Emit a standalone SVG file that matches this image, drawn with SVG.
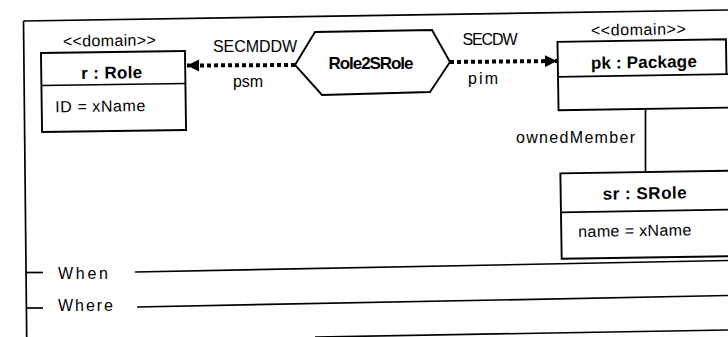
<svg xmlns="http://www.w3.org/2000/svg" width="728" height="337" viewBox="0 0 728 337">
<style>
.ln{fill:none;stroke:#000;stroke-width:1.7}
.box{fill:#fff;stroke:#000;stroke-width:1.9}
.t{font-family:"Liberation Sans",Arial,sans-serif;font-size:16px;fill:#000}
.b{font-family:"Liberation Sans",Arial,sans-serif;font-size:17px;font-weight:bold;fill:#000}
.dot{fill:none;stroke:#000;stroke-width:4;stroke-dasharray:4 3}
</style>
<defs>
<marker id="ah" viewBox="0 0 12 12" refX="12" refY="6" markerWidth="12" markerHeight="12" markerUnits="userSpaceOnUse" orient="auto">
<path d="M0,0 L12,6 L0,12 Z" fill="#000"/>
</marker>
</defs>
<rect width="728" height="337" fill="#fff"/>
<g id="frame">
<line class="ln" x1="23.5" y1="21" x2="728" y2="10"/>
<line class="ln" x1="23.5" y1="21" x2="26.7" y2="337"/>
<line class="ln" x1="26" y1="272.5" x2="43" y2="272.5"/>
<line class="ln" x1="27" y1="308" x2="43" y2="308"/>
<text class="t" x="58" y="278.5" textLength="50" font-size="18">When</text>
<text class="t" x="58" y="310.5" textLength="55" font-size="18">Where</text>
<line class="ln" x1="135" y1="272" x2="728" y2="260.5"/>
<line class="ln" x1="137" y1="307" x2="728" y2="295.5"/>
<line class="ln" x1="315" y1="337" x2="728" y2="330"/>
</g>
<g id="connectors">
<line class="dot" x1="295" y1="65" x2="187" y2="65.5" marker-end="url(#ah)"/>
<line class="dot" x1="450" y1="62" x2="557" y2="61" marker-end="url(#ah)"/>
<line class="ln" x1="645.5" y1="109" x2="645.5" y2="172"/>
<text class="t" x="255" y="51.5" text-anchor="middle" textLength="84">SECMDDW</text>
<text class="t" x="248" y="87" text-anchor="middle" textLength="30">psm</text>
<text class="t" x="490" y="45" text-anchor="middle" textLength="55" font-size="15">SECDW</text>
<text class="t" x="483" y="84" text-anchor="middle" textLength="30" font-size="17">pim</text>
<text class="t" x="575.5" y="143" text-anchor="middle" textLength="119" font-size="17">ownedMember</text>
</g>
<g id="role" transform="rotate(-0.8 113 91)">
<text class="t" x="110" y="46" text-anchor="middle" textLength="93">&lt;&lt;domain&gt;&gt;</text>
<rect class="box" x="41.5" y="52" width="144" height="79"/>
<line class="ln" x1="41.5" y1="84.5" x2="185.5" y2="84.5"/>
<text class="b" x="112" y="78.5" text-anchor="middle" textLength="61">r : Role</text>
<text class="t" x="55" y="111.5" textLength="90" font-size="17">ID = xName</text>
</g>
<g id="role2srole">
<polygon class="box" points="295,65 315,32 432,30 450,62 430,92 322,95"/>
<text class="b" x="371" y="68.5" text-anchor="middle" textLength="85" font-size="15.5">Role2SRole</text>
</g>
<g id="package" transform="rotate(-0.9 642 75)">
<text class="t" x="639" y="35" text-anchor="middle" textLength="95">&lt;&lt;domain&gt;&gt;</text>
<path class="box" d="M728,109 L558,109 L558,40.5 L726.5,40.5 L726.5,75.5"/>
<line class="ln" x1="558" y1="75.5" x2="728" y2="75.5"/>
<text class="b" x="644" y="68" text-anchor="middle" textLength="106">pk : Package</text>
</g>
<g id="srole" transform="rotate(-0.9 645 214)">
<path class="box" d="M730,172 L561,172 L561,257.5 L730,257.5"/>
<line class="ln" x1="561" y1="211" x2="730" y2="211"/>
<text class="b" x="645" y="199" text-anchor="middle" textLength="84">sr :  SRole</text>
<text class="t" x="578" y="236" textLength="113">name = xName</text>
</g>
</svg>
